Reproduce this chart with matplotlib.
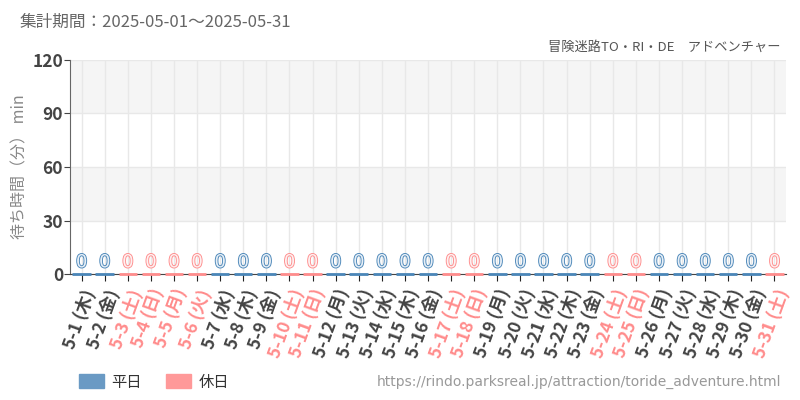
import matplotlib
matplotlib.use("Agg")
import matplotlib.pyplot as plt
import matplotlib.patches as mpatches
import matplotlib.patheffects as pe

plt.rcParams['font.family'] = ['Noto Sans CJK JP', 'DejaVu Sans']

# データ (2025-05 の待ち時間、全日 0 分)
days = [f"5-{d}" for d in range(1, 32)]
youbi = ["木", "金", "土", "日", "月", "火", "水", "木", "金", "土", "日",
         "月", "火", "水", "木", "金", "土", "日", "月", "火", "水", "木",
         "金", "土", "日", "月", "火", "水", "木", "金", "土"]
kyujitsu = [False, False, True, True, True, True, False, False, False, True, True,
            False, False, False, False, False, True, True, False, False, False, False,
            False, True, True, False, False, False, False, False, True]
machi = [0] * 31

c_hei = '#4a86b8'
c_kyu = '#ff8c8c'
c_hei_leg = '#6a9ac4'
c_kyu_leg = '#ff9999'

fig = plt.figure(figsize=(8, 4), dpi=100)
ax = fig.add_axes([0.0875, 0.315, 0.895, 0.535])

# 背景の縞
for lo in range(0, 120, 30):
    if (lo // 30) % 2 == 1:
        ax.axhspan(lo, lo + 30, color='#f5f5f5', zorder=0, lw=0)

x = list(range(len(days)))
colors = [c_kyu if k else c_hei for k in kyujitsu]
bars = ax.bar(x, machi, width=0.8, color=colors, edgecolor=colors, linewidth=2, zorder=5)
for b in bars:
    b.set_clip_on(False)

for i, v in enumerate(machi):
    t = ax.text(i, v + 1.5, str(v), ha='center', va='bottom', fontsize=13,
                color='#e6eef6' if not kyujitsu[i] else '#fdf0f0', zorder=4,
                family=['Liberation Sans Narrow', 'DejaVu Sans'])
    t.set_path_effects([pe.Stroke(linewidth=1.3, foreground=colors[i]), pe.Normal()])

ax.set_xlim(-0.5, len(days) - 0.5)
ax.set_ylim(0, 120)
ax.set_yticks([0, 30, 60, 90, 120])
ax.set_xticks(x)
ax.set_xticklabels([f"{d} ({w})" for d, w in zip(days, youbi)], rotation=70,
                   ha='right', rotation_mode='anchor', fontsize=12.5, fontweight='bold')
for lbl, k in zip(ax.get_xticklabels(), kyujitsu):
    lbl.set_color(c_kyu if k else '#444444')
for lbl in ax.get_yticklabels():
    lbl.set_fontsize(12.5)
    lbl.set_fontweight('bold')
    lbl.set_color('#444444')

ax.grid(True, color='#e8e8e8', linewidth=1, zorder=1)
ax.set_axisbelow(True)
for s in ['top', 'right']:
    ax.spines[s].set_visible(False)
ax.spines['left'].set_color('#666666')
ax.spines['bottom'].set_color('#444444')
ax.tick_params(axis='x', length=5, color='#222222', pad=4)
ax.tick_params(axis='y', length=4, color='#444444', pad=1)

ax.set_ylabel('待ち時間（分） min', fontsize=11.5, color='#888888', va='center')
ax.yaxis.set_label_coords(-0.07, 0.5)

fig.text(0.025, 0.945, '集計期間：2025-05-01～2025-05-31', fontsize=12, color='#666666',
         va='center')
fig.text(0.975, 0.882, '冒険迷路TO・RI・DE　アドベンチャー', fontsize=9.5, color='#555555',
         ha='right', va='center')

handles = [mpatches.Patch(color=c_hei_leg, label='平日'),
           mpatches.Patch(color=c_kyu_leg, label='休日')]
fig.legend(handles=handles, loc='center left', bbox_to_anchor=(0.099, 0.045), ncol=2,
           frameon=False, fontsize=11, handlelength=1.6, handleheight=1.0,
           columnspacing=1.6, handletextpad=0.5, labelcolor='#333333',
           borderpad=0, borderaxespad=0)

fig.text(0.976, 0.045, 'https://rindo.parksreal.jp/attraction/toride_adventure.html',
         fontsize=10, color='#999999', ha='right', va='center',
         family=['Liberation Sans Narrow', 'DejaVu Sans'])

fig.savefig('out.png', dpi=100)
